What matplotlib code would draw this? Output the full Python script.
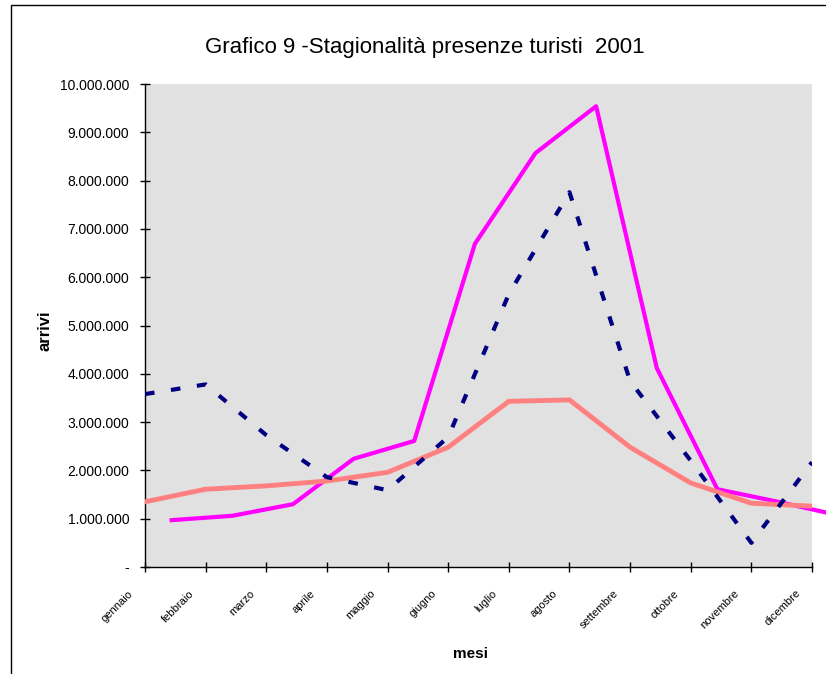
import numpy as np
import matplotlib
matplotlib.use('Agg')
import matplotlib.pyplot as plt
import matplotlib.transforms as mtransforms
from matplotlib.ticker import FuncFormatter
from matplotlib.patches import Rectangle

mesi = ['gennaio', 'febbraio', 'marzo', 'aprile', 'maggio', 'giugno',
        'luglio', 'agosto', 'settembre', 'ottobre', 'novembre', 'dicembre']

# valori (arrivi)
serie_blu = [3580000, 3780000, 2730000, 1860000, 1590000, 2690000,
             5650000, 7760000, 3850000, 2200000, 500000, 2170000]
serie_magenta = [970000, 1060000, 1300000, 2240000, 2610000, 6690000,
                 8570000, 9540000, 4120000, 1610000, 1350000, 1070000]
serie_salmone = [1350000, 1610000, 1680000, 1780000, 1960000, 2480000,
                 3430000, 3460000, 2480000, 1740000, 1320000, 1260000]

plt.rcParams['font.family'] = ['Liberation Sans', 'DejaVu Sans']

fig = plt.figure(figsize=(8.26, 6.74), dpi=100)
ax = fig.add_axes([145/826, 107/674, 667/826, 483/674])
ax.set_facecolor('#E1E1E1')

x = np.arange(len(mesi))
ax.plot(x + 0.44, serie_magenta, color='#FF00FF', lw=3, clip_on=False, zorder=3)
ax.plot(x, serie_salmone, color='#FF8080', lw=3.5, zorder=4)
ax.plot(x, serie_blu, color='#000080', lw=3, dashes=(2.3, 4), dash_capstyle='butt', zorder=5)

ax.set_xlim(0, 11)
ax.set_ylim(0, 10000000)
ax.set_yticks(np.arange(0, 10000001, 1000000))
ax.yaxis.set_major_formatter(FuncFormatter(
    lambda v, p: '-' if v == 0 else f'{int(v):,}'.replace(',', '.')))
ax.set_xticks(x)
ax.set_xticklabels(mesi, rotation=45, ha='right', va='top', rotation_mode='anchor', fontsize=8)

ax.tick_params(axis='y', direction='inout', length=6.5, width=1, labelsize=10, pad=8)
ax.tick_params(axis='x', direction='inout', length=6.5, width=1, pad=12)
off = mtransforms.ScaledTranslation(-0.17, 0, fig.dpi_scale_trans)
for lab in ax.get_xticklabels():
    lab.set_transform(lab.get_transform() + off)

for s in ['top', 'right']:
    ax.spines[s].set_visible(False)
for s in ['left', 'bottom']:
    ax.spines[s].set_linewidth(1)

ax.set_xlabel('mesi', fontsize=11, fontweight='bold')
ax.set_ylabel('arrivi', fontsize=12, fontweight='bold')
ax.xaxis.set_label_coords(325/667, -80/483)
ax.yaxis.set_label_coords(-93/667, 0.49)

fig.text(425/826, 1 - 47/674, 'Grafico 9 -Stagionalità presenze turisti  2001',
         fontsize=16, ha='center', va='center')

fig.patches.append(Rectangle((11/826, -0.1), 1.2, 1 - 5/674 + 0.1, transform=fig.transFigure,
                             fill=False, edgecolor='black', lw=1))

fig.savefig('out.png', dpi=100)
